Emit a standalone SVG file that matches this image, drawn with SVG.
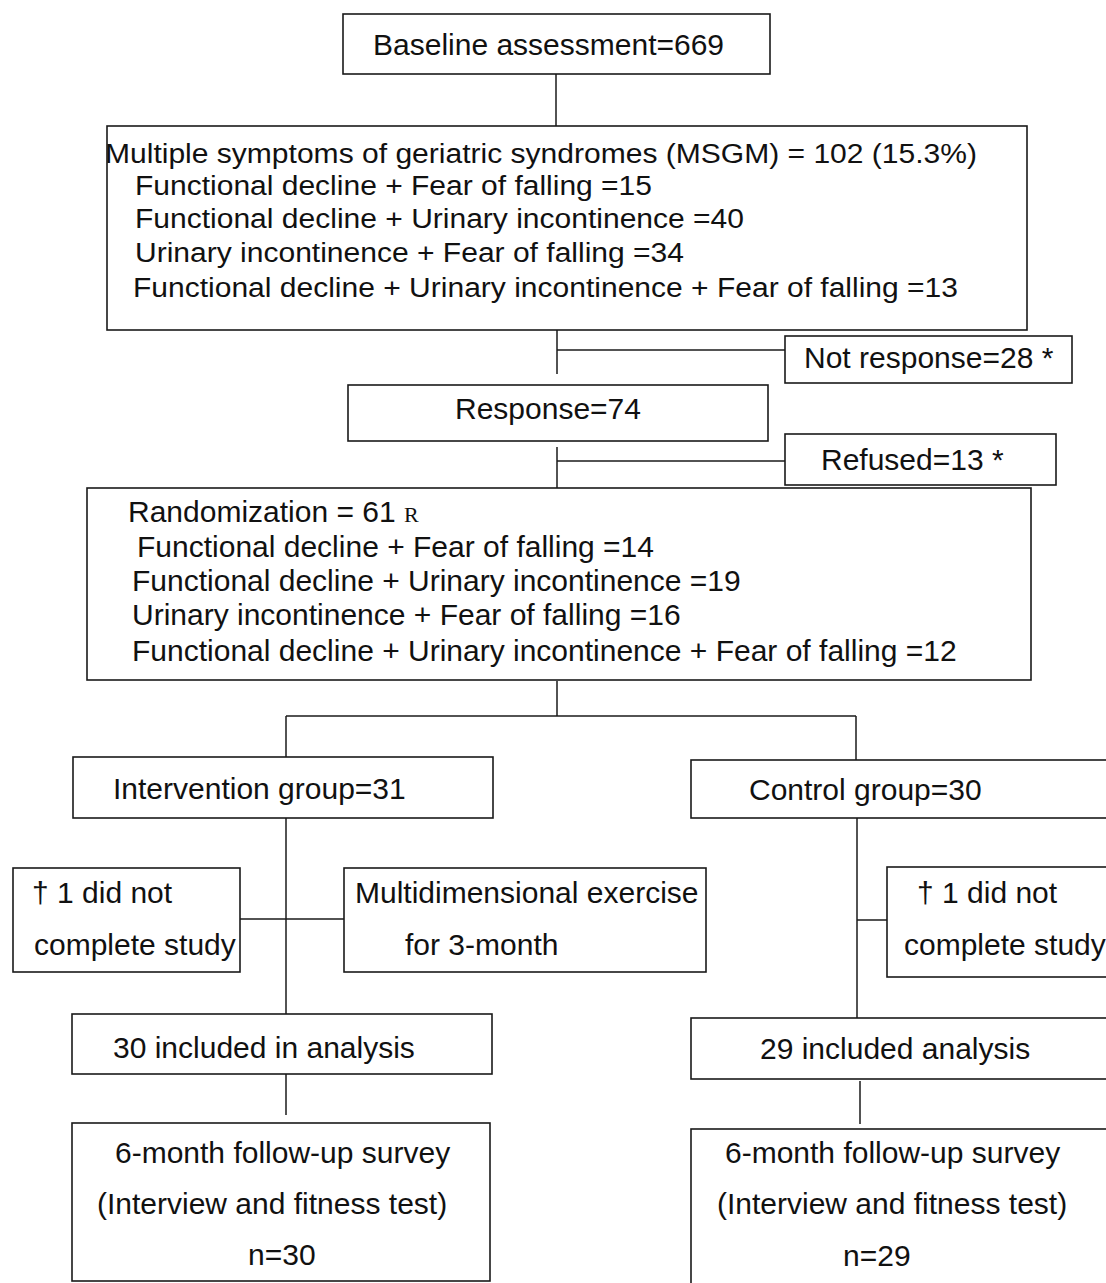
<svg xmlns="http://www.w3.org/2000/svg" width="1106" height="1283" viewBox="0 0 1106 1283">
<style>
  .bg { fill: #ffffff; }
  .box { fill: none; stroke: #1a1a1a; stroke-width: 1.6; }
  .conn { fill: none; stroke: #1a1a1a; stroke-width: 1.5; }
  .t { font-family: "Liberation Sans", Arial, sans-serif; font-size: 30px; fill: #111111; }
  .s { font-size: 27px; }
  .r { font-family: "Liberation Serif", "Times New Roman", serif; font-size: 22px; }
</style>
<rect class="bg" x="0" y="0" width="1106" height="1283"/>

<g id="connectors">
  <path class="conn" d="M556 74 V126"/>
  <path class="conn" d="M557 330 V374"/>
  <path class="conn" d="M557 350 H785"/>
  <path class="conn" d="M557 447 V488"/>
  <path class="conn" d="M557 461 H785"/>
  <path class="conn" d="M557 681 V716"/>
  <path class="conn" d="M286 716 H856"/>
  <path class="conn" d="M286 716 V757"/>
  <path class="conn" d="M856 716 V760"/>
  <path class="conn" d="M286 818 V1014"/>
  <path class="conn" d="M240 919 H344"/>
  <path class="conn" d="M857 818 V1018"/>
  <path class="conn" d="M857 920 H887"/>
  <path class="conn" d="M286 1074 V1115"/>
  <path class="conn" d="M860 1081 V1124"/>
</g>

<g id="baseline">
  <rect class="box" x="343" y="14" width="427" height="60"/>
  <text class="t" x="373" y="55" font-size="31">Baseline assessment=669</text>
</g>

<g id="msgm">
  <rect class="box" x="107" y="126" width="920" height="204"/>
  <text class="t s" x="105" y="163" textLength="872" lengthAdjust="spacingAndGlyphs">Multiple symptoms of geriatric syndromes (MSGM) = 102 (15.3%)</text>
  <text class="t s" x="135" y="195" textLength="517" lengthAdjust="spacingAndGlyphs">Functional decline + Fear of falling =15</text>
  <text class="t s" x="135" y="228" textLength="609" lengthAdjust="spacingAndGlyphs">Functional decline + Urinary incontinence =40</text>
  <text class="t s" x="135" y="262" textLength="549" lengthAdjust="spacingAndGlyphs">Urinary incontinence + Fear of falling =34</text>
  <text class="t s" x="133" y="297" textLength="825" lengthAdjust="spacingAndGlyphs">Functional decline + Urinary incontinence + Fear of falling =13</text>
</g>

<g id="not-response">
  <rect class="box" x="785" y="336" width="287" height="47"/>
  <text class="t" x="804" y="368">Not response=28 *</text>
</g>

<g id="response">
  <rect class="box" x="348" y="385" width="420" height="56"/>
  <text class="t" x="455" y="419">Response=74</text>
</g>

<g id="refused">
  <rect class="box" x="785" y="434" width="271" height="51"/>
  <text class="t" x="821" y="470">Refused=13 *</text>
</g>

<g id="randomization">
  <rect class="box" x="87" y="488" width="944" height="192"/>
  <text class="t" x="128" y="522">Randomization = 61 <tspan class="r">R</tspan></text>
  <text class="t" x="137" y="557">Functional decline + Fear of falling =14</text>
  <text class="t" x="132" y="591">Functional decline + Urinary incontinence =19</text>
  <text class="t" x="132" y="625">Urinary incontinence + Fear of falling =16</text>
  <text class="t" x="132" y="661">Functional decline + Urinary incontinence + Fear of falling =12</text>
</g>

<g id="intervention">
  <rect class="box" x="73" y="757" width="420" height="61"/>
  <text class="t" x="113" y="799">Intervention group=31</text>
</g>

<g id="control">
  <rect class="box" x="691" y="760" width="420" height="58"/>
  <text class="t" x="749" y="800">Control group=30</text>
</g>

<g id="dropout-intervention">
  <rect class="box" x="13" y="868" width="227" height="104"/>
  <text class="t" x="32" y="903">† 1 did not</text>
  <text class="t" x="34" y="955">complete study</text>
</g>

<g id="exercise">
  <rect class="box" x="344" y="868" width="362" height="104"/>
  <text class="t" x="355" y="903">Multidimensional exercise</text>
  <text class="t" x="405" y="955">for 3-month</text>
</g>

<g id="dropout-control">
  <rect class="box" x="887" y="867" width="225" height="110"/>
  <text class="t" x="917" y="903">† 1 did not</text>
  <text class="t" x="904" y="955">complete study</text>
</g>

<g id="analysis-intervention">
  <rect class="box" x="72" y="1014" width="420" height="60"/>
  <text class="t" x="113" y="1058">30 included in analysis</text>
</g>

<g id="analysis-control">
  <rect class="box" x="691" y="1018" width="420" height="61"/>
  <text class="t" x="760" y="1059">29 included analysis</text>
</g>

<g id="followup-intervention">
  <rect class="box" x="72" y="1123" width="418" height="158"/>
  <text class="t" x="115" y="1163">6-month follow-up survey</text>
  <text class="t" x="97" y="1214">(Interview and fitness test)</text>
  <text class="t" x="248" y="1265">n=30</text>
</g>

<g id="followup-control">
  <rect class="box" x="691" y="1129" width="420" height="160"/>
  <text class="t" x="725" y="1163">6-month follow-up survey</text>
  <text class="t" x="717" y="1214">(Interview and fitness test)</text>
  <text class="t" x="843" y="1266">n=29</text>
</g>
</svg>
